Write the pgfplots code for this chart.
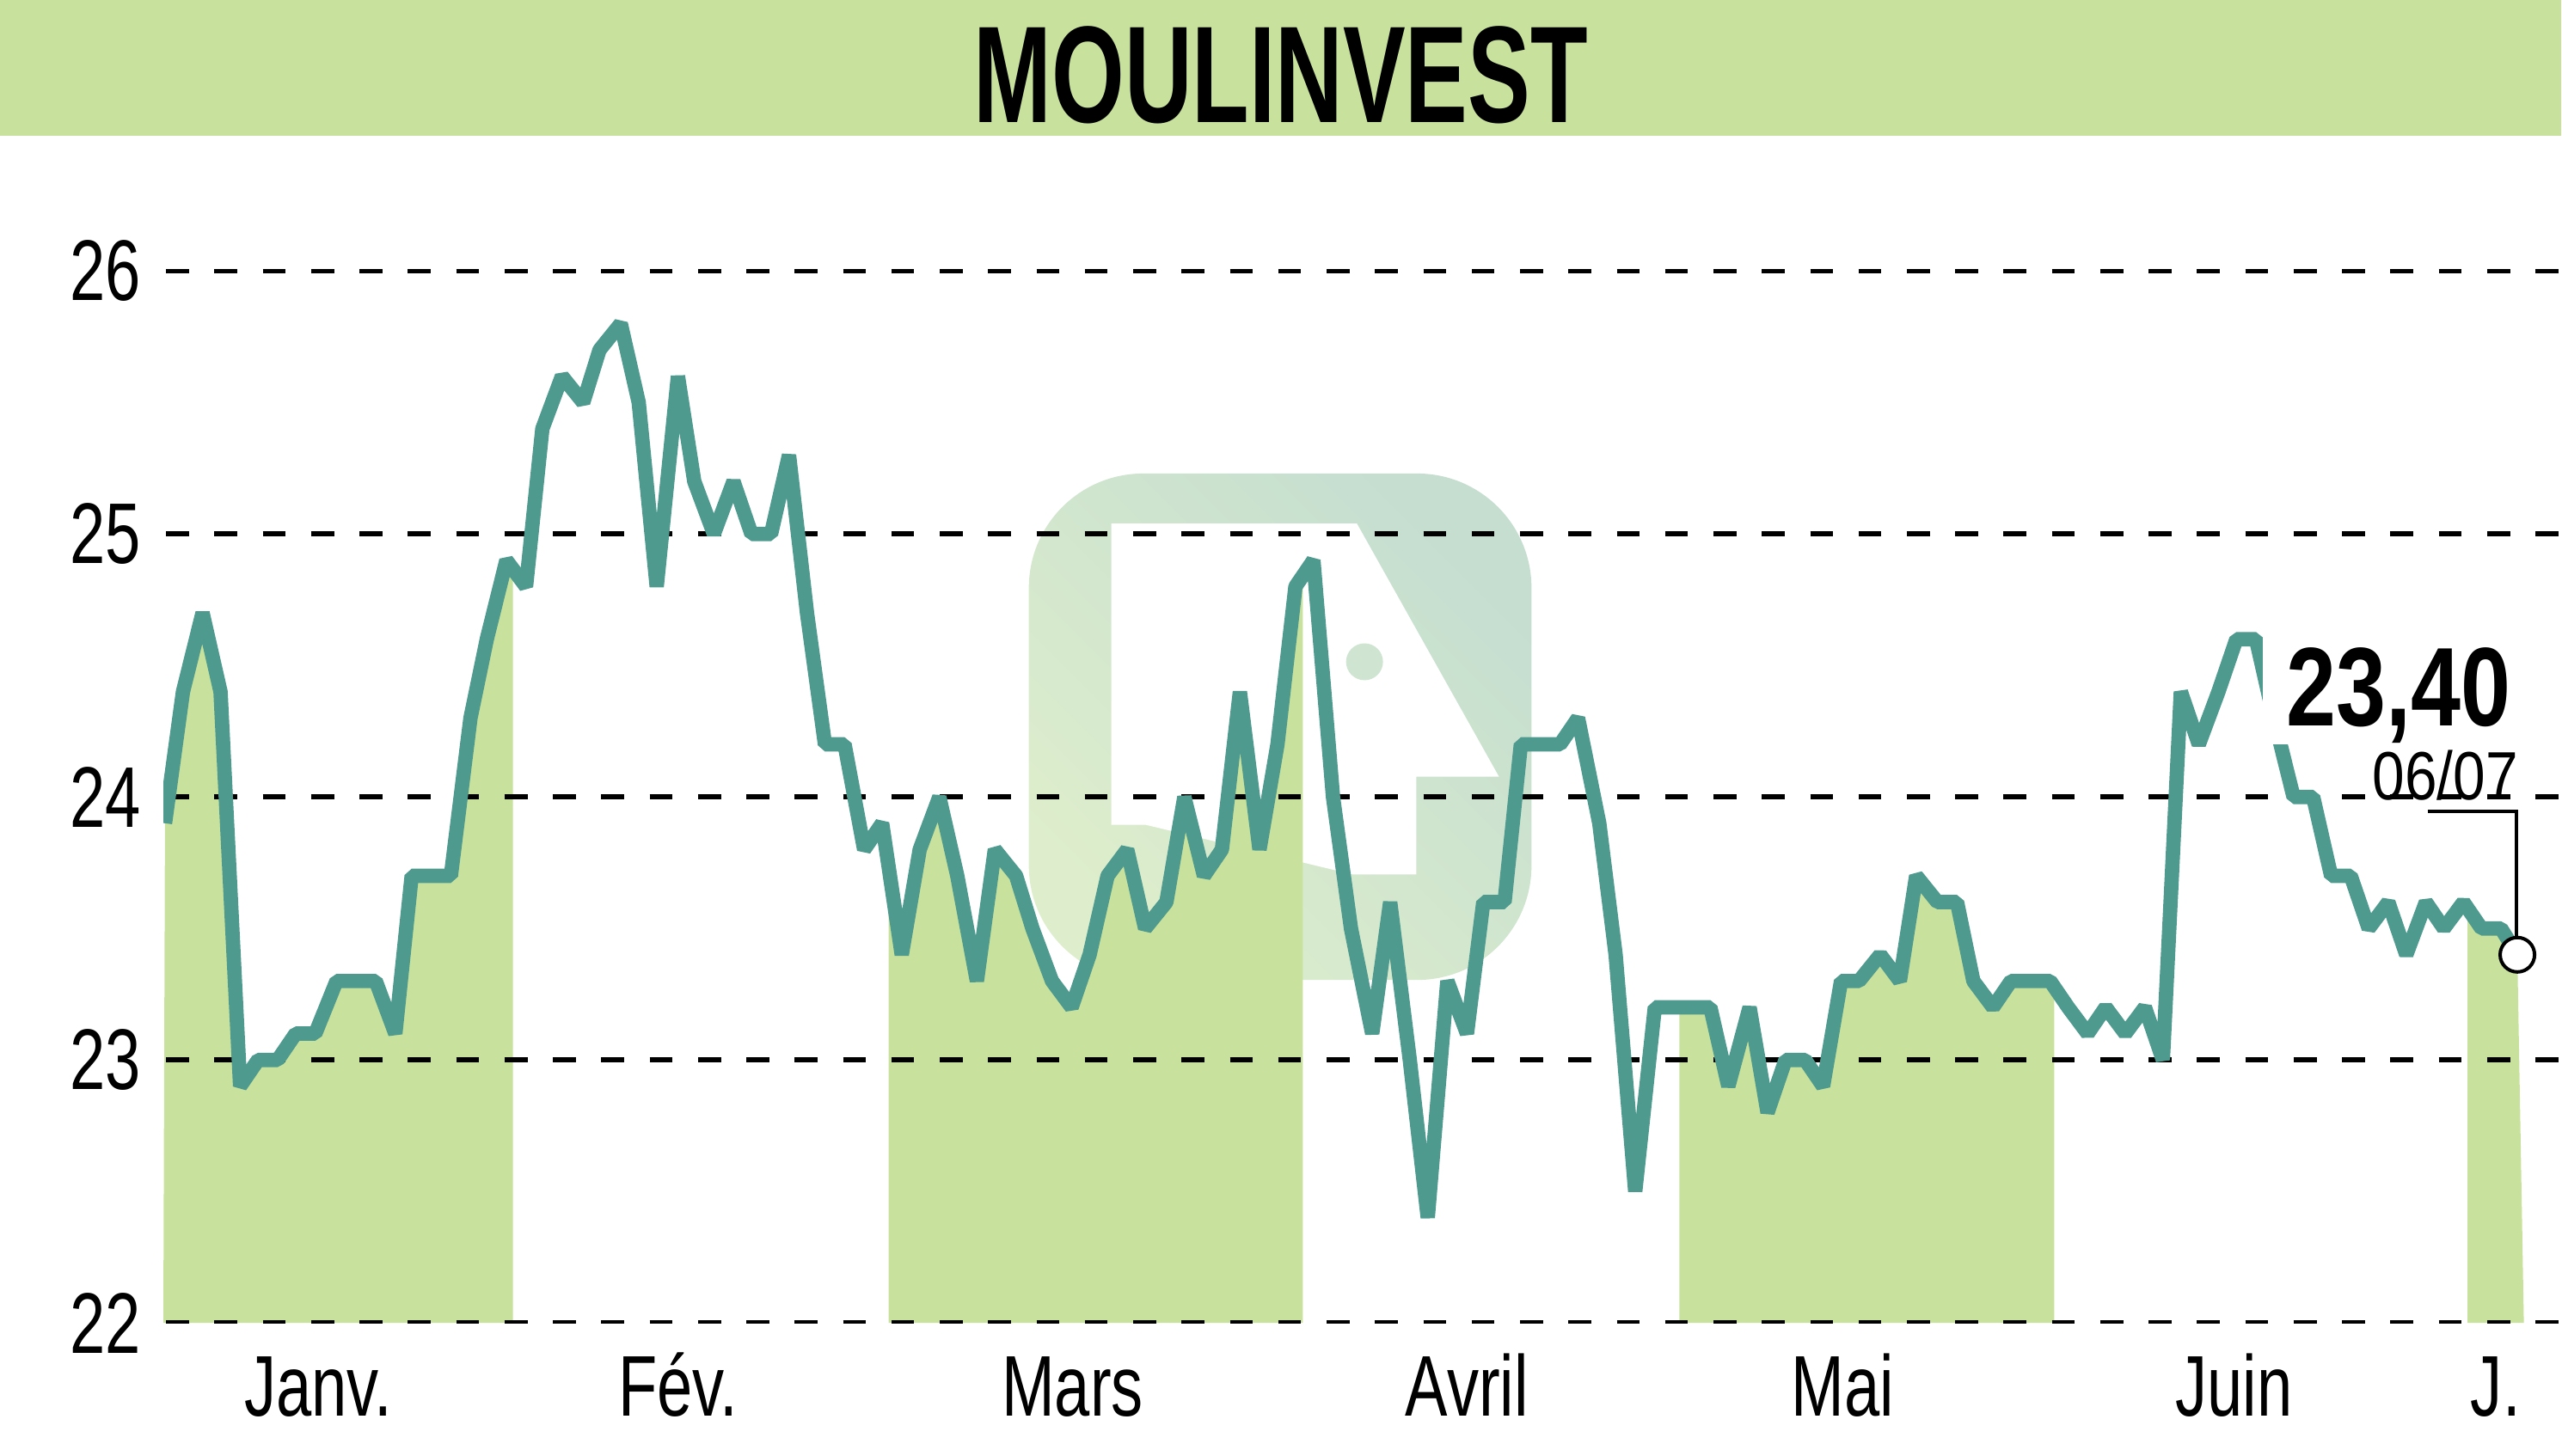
\documentclass[border=0pt]{standalone}
\usepackage{pgfplots}
\pgfplotsset{compat=1.18}
\usepackage{pgfplotstable}
\usepgfplotslibrary{fillbetween}
\usepackage{fontspec}
\setmainfont{Liberation Sans}[FakeStretch=0.74]
\newfontfamily\titlefont{Liberation Sans}[FakeStretch=0.68]
\newfontfamily\pricefont{Liberation Sans}[FakeStretch=0.80]
\newfontfamily\datefont{Liberation Sans}[FakeStretch=0.85]
\definecolor{bandgreen}{HTML}{C8E29D}
\definecolor{areagreen}{HTML}{C8E29D}
\definecolor{lineteal}{HTML}{4E9A8E}
\definecolor{wmA}{HTML}{C5DED0}
\definecolor{wmB}{HTML}{DEEECC}
\definecolor{wmC}{HTML}{CFE5D2}
\pgfkeysifdefined{/tikz/fill between/on layer/.@cmd}{\pgfkeys{/tikz/fill between/on layer=main}}{}
\pgfkeysifdefined{/tikz/fill between/on layer}{\pgfkeyssetvalue{/tikz/fill between/on layer}{main}}{}
\pgfkeysifdefined{/pgfplots/fill between/on layer}{\pgfkeyssetvalue{/pgfplots/fill between/on layer}{main}}{}

\pgfplotstableread{
x y
101 23.9
112 24.4
124 24.7
135 24.4
147 22.9
158 23.0
170 23.0
181 23.1
193 23.1
206 23.3
218 23.3
230 23.3
242 23.1
252 23.7
264 23.7
276 23.7
288 24.3
298 24.6
310 24.9
322 24.8
332 25.4
344 25.6
357 25.5
367 25.7
380 25.8
391 25.5
402 24.8
415 25.6
425 25.2
437 25.0
449 25.2
460 25.0
472 25.0
483 25.3
494 24.7
505 24.2
517 24.2
529 23.8
540 23.9
552 23.4
563 23.8
575 24.0
586 23.7
598 23.3
609 23.8
622 23.7
632 23.5
644 23.3
656 23.2
667 23.4
678 23.7
690 23.8
701 23.5
714 23.6
725 24.0
737 23.7
748 23.8
759 24.4
771 23.8
782 24.2
793 24.8
804 24.9
816 24.0
827 23.5
840 23.1
851 23.6
863 23.0
874 22.4
886 23.3
898 23.1
908 23.6
921 23.6
931 24.2
944 24.2
955 24.2
966 24.3
979 23.9
989 23.4
1001 22.5
1013 23.2
1024 23.2
1037 23.2
1047 23.2
1058 22.9
1071 23.2
1082 22.8
1093 23.0
1105 23.0
1116 22.9
1127 23.3
1138 23.3
1151 23.4
1163 23.3
1173 23.7
1186 23.6
1198 23.6
1208 23.3
1220 23.2
1231 23.3
1243 23.3
1255 23.3
1266 23.2
1278 23.1
1289 23.2
1301 23.1
1313 23.2
1324 23.0
1335 24.4
1346 24.2
1358 24.4
1369 24.6
1381 24.6
1392 24.3
1404 24.0
1416 24.0
1427 23.7
1439 23.7
1450 23.5
1462 23.6
1473 23.4
1485 23.6
1496 23.5
1508 23.6
1519 23.5
1531 23.5
1541 23.4
}\pricedata

\begin{document}
\begin{tikzpicture}
\path (0,0) rectangle (15.68,8.91);
\begin{axis}[
  at={(1cm,0.81cm)}, anchor=south west,
  scale only axis, width=14.68cm, height=7.26cm,
  xmin=100, xmax=1568, ymin=22, ymax=26.509,
  axis line style={draw=none},
  major tick length=0pt,
  ytick={22,23,24,25,26},
  yticklabels={22,23,24,25,26},
  yticklabel style={font=\fontsize{15}{15}\selectfont, anchor=east, inner sep=0pt, xshift=-1.3mm},
  xtick={194.7,415,656.5,898,1128,1367.5,1527.7},
  xticklabels={Janv.,Fév.,Mars,Avril,Mai,Juin,J.},
  xticklabel style={font=\fontsize{15}{15}\selectfont, anchor=base, inner sep=0pt, yshift=-5.7mm},
]
\shade[rounded corners=7mm, top color=wmA, bottom color=wmB, shading angle=-45] (axis cs:629.8,23.304) rectangle (axis cs:937.5,25.23);
\fill[white] (axis cs:680.3,25.04) -- (axis cs:830.6,25.04) -- (axis cs:917.6,24.077) -- (axis cs:867,24.077) -- (axis cs:867,23.705) -- (axis cs:828.3,23.705) -- (axis cs:701.4,23.894) -- (axis cs:680.3,23.894) -- cycle;
\fill[wmC] (axis cs:835.3,24.514) circle[radius=1.13mm];

\addplot[name path=price, draw=none, forget plot] table[x=x,y=y]{\pricedata};
\addplot[name path=base, draw=none, forget plot] coordinates {(100,22) (1568,22)};
\addplot[fill=areagreen, draw=none] fill between[of=price and base, soft clip={domain=97:314}];
\addplot[fill=areagreen, draw=none] fill between[of=price and base, soft clip={domain=544:797.5}];
\addplot[fill=areagreen, draw=none] fill between[of=price and base, soft clip={domain=1028:1257.5}];
\addplot[fill=areagreen, draw=none] fill between[of=price and base, soft clip={domain=1510.5:1545}];

\pgfplotsinvokeforeach{22,23,24,25,26}{
  \draw[black, line width=0.85pt, dash pattern=on 1.4mm off 1.56mm] (axis cs:101.7,#1) -- (axis cs:1568,#1);
}

\addplot[lineteal, line width=2.5pt, line join=bevel] table[x=x,y=y]{\pricedata};

\fill[white] (axis cs:1385,24.2) rectangle (axis cs:1568,24.72);
\draw[black, line width=0.6pt] (axis cs:1486,23.945) -- (axis cs:1540.5,23.945) -- (axis cs:1540.5,23.4);
\addplot[only marks, mark=*, mark size=3pt, mark options={fill=white, draw=black, line width=0.6pt}] coordinates {(1541,23.4)};
\node[anchor=base east, font=\pricefont\bfseries\fontsize{19.5}{19.5}\selectfont, inner sep=0pt, text depth=0pt] at (axis cs:1537.5,24.27) {23,40};
\node[anchor=base east, font=\datefont\fontsize{11.9}{11.9}\selectfont, inner sep=0pt] at (axis cs:1542,23.99) {06/07};
\end{axis}
\fill[bandgreen] (0,8.08) rectangle (15.68,8.91);
\node[font=\titlefont\bfseries\fontsize{24}{24}\selectfont, anchor=base, inner sep=0pt] at (7.84,8.16) {MOULINVEST};
\end{tikzpicture}
\end{document}
